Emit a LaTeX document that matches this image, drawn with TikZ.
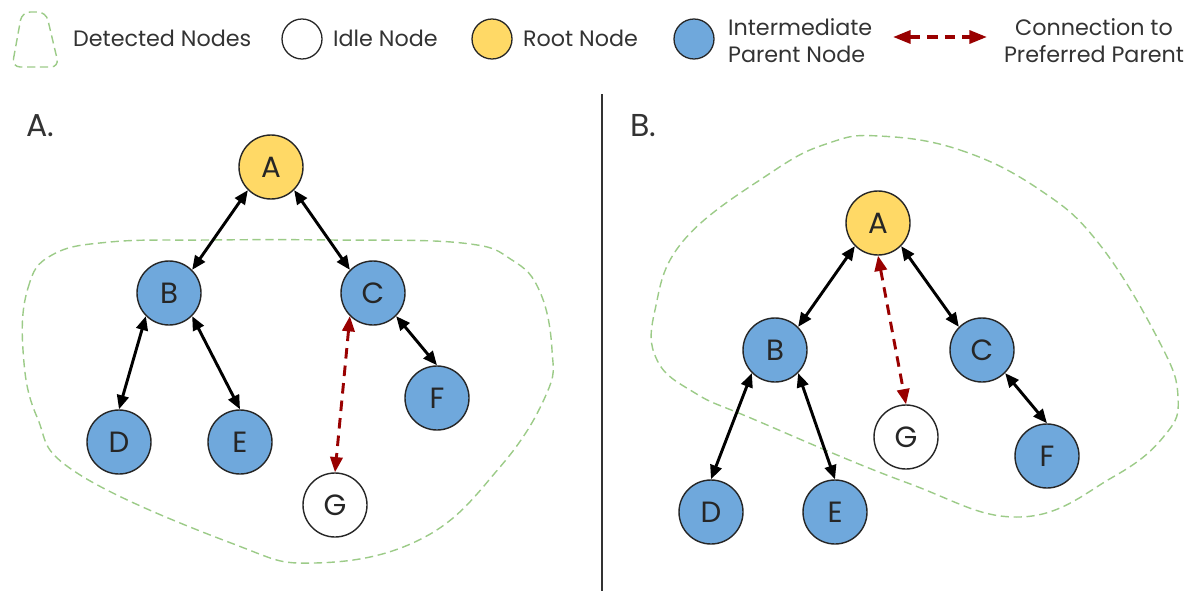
\documentclass[tikz,border=0pt]{standalone}
\usepackage{fontspec}
\setmainfont{Poppins}
\usetikzlibrary{arrows.meta,positioning}
\definecolor{rootyellow}{HTML}{FFD966}
\definecolor{parentblue}{HTML}{6FA8DC}
\definecolor{prefred}{HTML}{990000}
\definecolor{detectgreen}{HTML}{9CCB88}
\definecolor{labelgray}{HTML}{333333}

\begin{document}
\begin{tikzpicture}[x=0.03cm,y=-0.03cm,
  vertex/.style={circle,draw=black!85,line width=1.2pt,minimum size=1.92cm,inner sep=0pt,
    text=black!85,font=\fontsize{25}{25}\selectfont},
  root/.style={vertex,fill=rootyellow},
  parent/.style={vertex,fill=parentblue},
  idle/.style={vertex,fill=white},
  keydot/.style={circle,draw=black!85,line width=1.1pt,minimum size=1.2cm,inner sep=0pt},
  keytext/.style={text=labelgray,font=\fontsize{19}{23}\selectfont},
  panel/.style={text=labelgray,font=\fontsize{27}{27}\selectfont,anchor=base west},
  link/.style={black,line width=2.5pt,{Triangle[length=12pt,width=10pt]}-{Triangle[length=12pt,width=10pt]}},
  preflink/.style={prefred,line width=2.5pt,dash pattern=on 9pt off 6pt,
    {Triangle[length=13pt,width=10.5pt]}-{Triangle[length=13pt,width=10.5pt]}},
  detected/.style={detectgreen,line width=1.2pt,dash pattern=on 7pt off 4pt}
]
  \useasboundingbox (0,0) rectangle (1189,591);

  % legend
  \draw[detected,rounded corners=7pt] (12,67) -- (22,12) -- (46,12) -- (59,67) -- cycle;
  \node[keytext,anchor=west] (keydetected) at (69,38) {Detected Nodes};
  \node[keydot,fill=white] (keyidle) at (302,39) {};
  \node[keytext,anchor=west] (keyidletext) at (329,38) {Idle Node};
  \node[keydot,fill=rootyellow] (keyroot) at (492,39) {};
  \node[keytext,anchor=west] (keyroottext) at (519,38) {Root Node};
  \node[keydot,fill=parentblue] (keyparent) at (694,39) {};
  \node[keytext,anchor=west,align=left] (keyparenttext) at (724,41) {Intermediate\\Parent Node};
  \coordinate (keyleft) at (893,37);
  \coordinate (keyright) at (987,37);
  \draw[preflink,line width=3pt,{Triangle[length=15pt,width=11pt]}-{Triangle[length=15pt,width=11pt]}]
    (keyleft) -- (keyright);
  \node[keytext,align=center] (keypreftext) at (1094,41) {Connection to\\Preferred Parent};

  \draw[line width=1.2pt,black!80] (602,94) -- (602,591);

  % A. detected set
  \node[panel] (labelA) at (22,136) {A.};
  \draw[detected] plot[smooth cycle,tension=0.7] coordinates {
    (23,350) (28,288) (52,255) (110,242) (208,240) (330,240) (462,243)
    (512,260) (540,292) (552,350) (546,395) (500,467) (423,538)
    (315,563) (231,543) (77,473) (37,417)};
  \node[root]   (a1) at (271,167) {A};
  \node[parent] (b1) at (169,293) {B};
  \node[parent] (c1) at (373,293) {C};
  \node[parent] (d1) at (119,442) {D};
  \node[parent] (e1) at (240,442) {E};
  \node[parent] (f1) at (437,398) {F};
  \node[idle]   (g1) at (335,505) {G};
  \draw[link] (a1.225) -- (b1.45);
  \draw[link] (a1.-45) -- (c1.135);
  \draw[link] (b1.225) -- (d1.north);
  \draw[link] (b1.-45) -- (e1.north);
  \draw[link] (c1.-45) -- (f1.north);
  \draw[preflink] (c1.225) -- (g1.north);

  % B. detected set
  \node[panel] (labelB) at (626,136) {B.};
  \draw[detected] plot[smooth cycle,tension=0.7] coordinates {
    (879,136) (960,150) (1040,190) (1100,245) (1160,343) (1178,397)
    (1165,435) (1113,477) (1020,517) (905,482) (753,419) (695,393)
    (657,360) (655,310) (684,240) (772,172) (829,143)};
  \node[root]   (a2) at (878,223) {A};
  \node[parent] (b2) at (775,350) {B};
  \node[parent] (c2) at (982,350) {C};
  \node[parent] (d2) at (711,512) {D};
  \node[parent] (e2) at (835,512) {E};
  \node[parent] (f2) at (1047,456) {F};
  \node[idle]   (g2) at (906,437) {G};
  \draw[link] (a2.225) -- (b2.45);
  \draw[link] (a2.-45) -- (c2.135);
  \draw[link] (b2.225) -- (d2.north);
  \draw[link] (b2.-45) -- (e2.north);
  \draw[link] (c2.-45) -- (f2.north);
  \draw[preflink] (a2.south) -- (g2.north);
\end{tikzpicture}
\end{document}
